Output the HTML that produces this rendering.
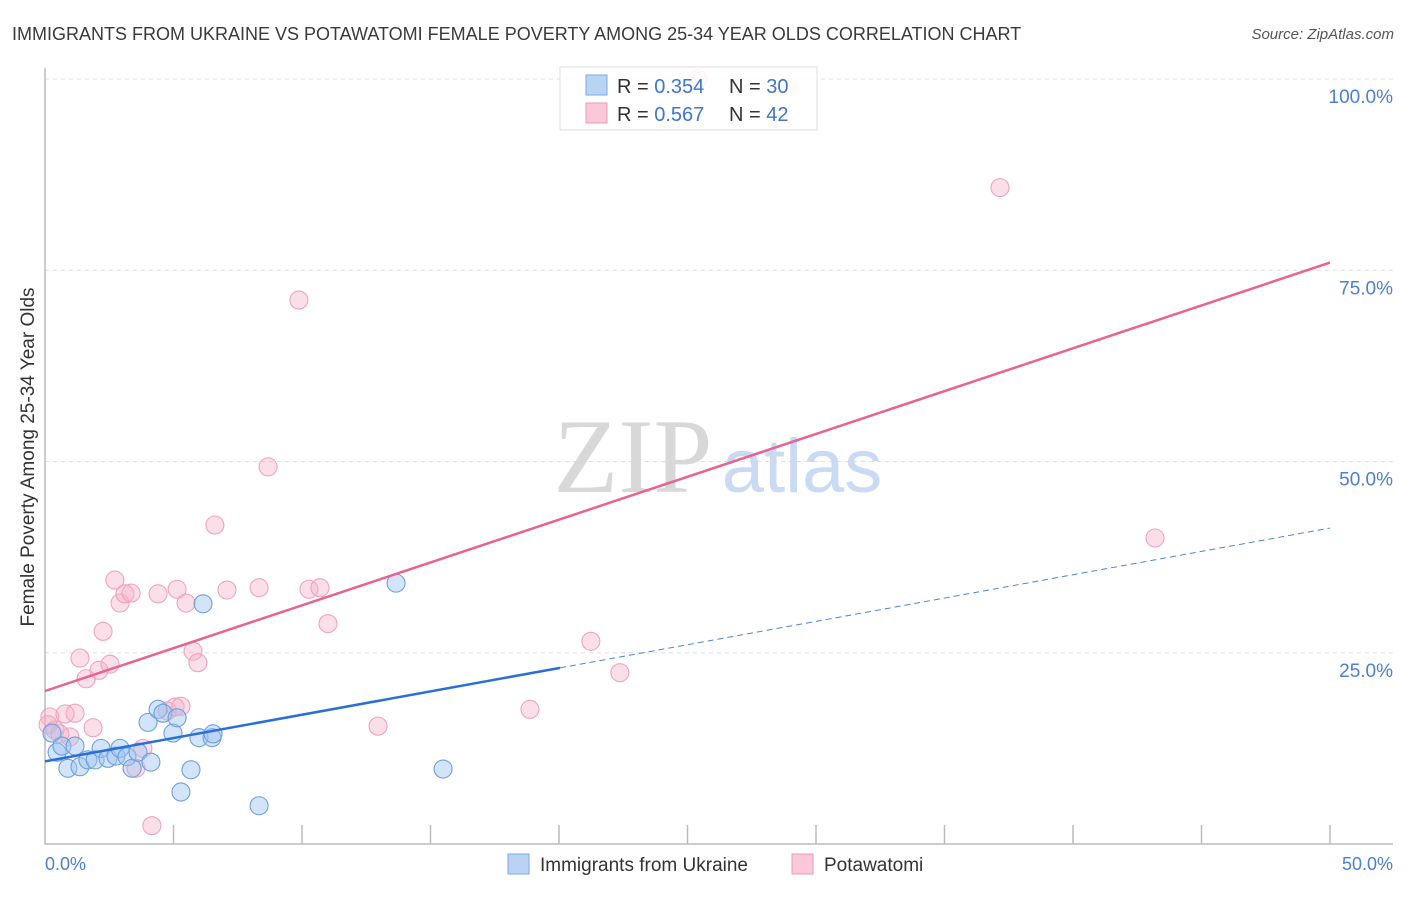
<!DOCTYPE html>
<html><head><meta charset="utf-8"><style>
body{margin:0;background:#fff;font-family:"Liberation Sans",sans-serif;}
svg text{font-family:"Liberation Sans",sans-serif;}
</style></head><body>
<svg width="1406" height="892" viewBox="0 0 1406 892" xmlns="http://www.w3.org/2000/svg">
<text x="12" y="40" font-size="18" fill="#3a3a3a">IMMIGRANTS FROM UKRAINE VS POTAWATOMI FEMALE POVERTY AMONG 25-34 YEAR OLDS CORRELATION CHART</text>
<text x="1394" y="39" font-size="15" fill="#555" font-style="italic" text-anchor="end">Source: ZipAtlas.com</text>
<g id="grid"></g>
<g>
<text x="633" y="492" font-size="106" fill="#d8d8d8" text-anchor="middle" style="font-family:'Liberation Serif',serif">ZIP</text>
<text x="802" y="492" font-size="76" fill="#c9daf2" text-anchor="middle">atlas</text>
</g>
<g id="axes"></g>
<g id="marks"></g>
<g id="lines"></g>
<text transform="translate(34,457) rotate(-90)" font-size="19" fill="#333" text-anchor="middle">Female Poverty Among 25-34 Year Olds</text>
<text x="45" y="870" font-size="18" fill="#4a7fd4">0.0%</text>
<text x="1393" y="870" font-size="18" fill="#4a7fd4" text-anchor="end">50.0%</text>
<g>
<rect x="560" y="67" width="257" height="63" fill="rgba(255,255,255,0.85)" stroke="#ddd"/>
<rect x="586" y="75" width="21" height="20" fill="#b9d3f5" stroke="#7aa7e3"/>
<rect x="586" y="103" width="21" height="20" fill="#fac8d8" stroke="#ee9ab5"/>
<text x="617" y="93" font-size="20" fill="#333">R = <tspan fill="#3d75d0">0.354</tspan></text>
<text x="729" y="93" font-size="20" fill="#333">N = <tspan fill="#3d75d0">30</tspan></text>
<text x="617" y="121" font-size="20" fill="#333">R = <tspan fill="#3d75d0">0.567</tspan></text>
<text x="729" y="121" font-size="20" fill="#333">N = <tspan fill="#3d75d0">42</tspan></text>
</g>
<g>
<rect x="508" y="854" width="21" height="20" fill="#b9d3f5" stroke="#7aa7e3"/>
<text x="540" y="871" font-size="19" fill="#333">Immigrants from Ukraine</text>
<rect x="792" y="854" width="21" height="20" fill="#fac8d8" stroke="#ee9ab5"/>
<text x="824" y="871" font-size="19" fill="#333">Potawatomi</text>
</g>
</svg>
<script>
const blueX=[0.27,0.47,0.66,0.89,1.17,1.36,1.67,1.95,2.18,2.45,2.76,2.92,3.19,3.39,3.62,4.01,4.12,4.40,4.59,4.98,5.14,5.29,5.68,5.99,6.15,6.50,6.54,8.33,13.66,15.49];
const blueY=[14.5,12.0,12.8,9.9,12.8,10.1,11.0,11.0,12.5,11.2,11.5,12.5,11.4,9.9,12.0,15.9,10.7,17.6,17.1,14.5,16.5,6.8,9.7,13.9,31.4,13.9,14.4,5.0,34.1,9.8];
const pinkX=[0.19,0.12,0.39,0.58,0.78,0.97,1.17,1.36,1.60,1.87,2.10,2.26,2.53,2.72,2.92,3.11,3.35,3.54,3.81,4.16,4.40,4.75,5.06,5.14,5.29,5.49,5.76,5.95,6.61,7.08,8.33,8.68,9.88,10.27,10.70,11.01,12.96,18.87,21.24,22.37,37.16,43.19,25.4];
const pinkY=[16.6,15.6,14.9,14.4,17.0,14.0,17.1,24.3,21.6,15.2,22.7,27.8,23.5,34.5,31.5,32.7,32.8,9.9,12.5,2.4,32.7,17.4,17.9,33.3,18.0,31.5,25.2,23.7,41.7,33.2,33.5,49.3,71.1,33.3,33.5,28.8,15.4,17.6,26.5,22.4,85.8,40.0,100.0];
const yTicks=[25,50,75,100];
const yTickLabels=["25.0%","50.0%","75.0%","100.0%"];
const pinkLine=[20.0,76.0];
const blueLine=[10.8,41.3];
const blueSolidEnd=20.04;
const NS="http://www.w3.org/2000/svg";
const sx=v=>45+v/50*1285, sy=v=>844-v/100*765;
function mk(t,a,p){const e=document.createElementNS(NS,t);for(const k in a)e.setAttribute(k,a[k]);p.appendChild(e);return e;}
const grid=document.getElementById('grid'),axes=document.getElementById('axes'),marks=document.getElementById('marks'),lines=document.getElementById('lines');
yTicks.forEach((t,i)=>{
 const l=mk('line',{x1:45,x2:1393,y1:sy(t),y2:sy(t),stroke:'#ddd','stroke-dasharray':'4,4'},grid);
 
 
 const tx=mk('text',{x:1393,y:sy(t)+24,'font-size':19,fill:'#4a7fd4','text-anchor':'end'},axes);
 tx.textContent=yTickLabels[i];
 
 
});
const ax=mk('path',{d:'M45,68V844H1393',fill:'none',stroke:'#bbb','stroke-width':1.5},axes);


for(let i=1;i<=10;i++){const t=mk('line',{x1:sx(i*5),x2:sx(i*5),y1:825,y2:844,stroke:'#bbb','stroke-width':1.5},axes);
 
 }
pinkX.forEach((x,i)=>{const c=mk('circle',{cx:sx(x),cy:sy(pinkY[i]),r:9,fill:'rgba(246,176,198,0.4)',stroke:'#f0a3bb','stroke-width':1.1},marks);
 
 });
blueX.forEach((x,i)=>{const c=mk('circle',{cx:sx(x),cy:sy(blueY[i]),r:9,fill:'rgba(160,196,240,0.45)',stroke:'#6d9fe0','stroke-width':1.1},marks);
 
 });
const bl=v=>blueLine[0]+(blueLine[1]-blueLine[0])*v/50;
let l1=mk('line',{x1:sx(0),y1:sy(pinkLine[0]),x2:sx(50),y2:sy(pinkLine[1]),stroke:'#e8638f','stroke-width':2.5},lines);


let l2=mk('line',{x1:sx(0),y1:sy(bl(0)),x2:sx(blueSolidEnd),y2:sy(bl(blueSolidEnd)),stroke:'#2a6fd6','stroke-width':2.5},lines);


let l3=mk('line',{x1:sx(blueSolidEnd),y1:sy(bl(blueSolidEnd)),x2:sx(50),y2:sy(bl(50)),stroke:'#4a84d8','stroke-width':1,'stroke-dasharray':'6,4'},lines);


</script>
</body></html>
